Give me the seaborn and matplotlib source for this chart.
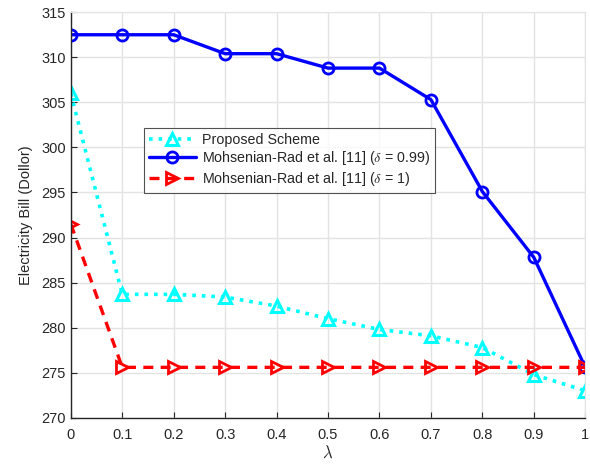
import matplotlib
matplotlib.use("Agg")
import matplotlib.pyplot as plt
import seaborn as sns
import numpy as np

lam = [0, 0.1, 0.2, 0.3, 0.4, 0.5, 0.6, 0.7, 0.8, 0.9, 1.0]
proposed = [306.0, 283.7, 283.7, 283.4, 282.4, 281.0, 279.8, 279.1, 277.8, 274.8, 273.0]
mr_099 = [312.5, 312.5, 312.5, 310.4, 310.4, 308.8, 308.8, 305.3, 295.1, 287.8, 275.6]
mr_1 = [291.5, 275.6, 275.6, 275.6, 275.6, 275.6, 275.6, 275.6, 275.6, 275.6, 275.6]
labels = ["Proposed Scheme",
          r"Mohsenian-Rad et al. [11] ($\delta$ = 0.99)",
          r"Mohsenian-Rad et al. [11] ($\delta$ = 1)"]
xticks = [0, 0.1, 0.2, 0.3, 0.4, 0.5, 0.6, 0.7, 0.8, 0.9, 1]
xticklabels = ["0", "0.1", "0.2", "0.3", "0.4", "0.5", "0.6", "0.7", "0.8", "0.9", "1"]
yticks = [270, 275, 280, 285, 290, 295, 300, 305, 310, 315]

sns.set_style("white")
plt.rcParams['font.family'] = ['Liberation Sans', 'DejaVu Sans']
plt.rcParams['mathtext.fontset'] = 'cm'

fig = plt.figure(figsize=(5.9, 4.7), dpi=100)
ax = fig.add_axes([0.120, 0.111, 0.872, 0.863])

sns.lineplot(x=lam, y=proposed, ax=ax, color='#00FFFF', linestyle=':', linewidth=2.6,
             marker='^', markersize=9, markerfacecolor='none', markeredgecolor='#00FFFF',
             markeredgewidth=2.2, label=labels[0])
sns.lineplot(x=lam, y=mr_099, ax=ax, color='#0000FF', linestyle='-', linewidth=2.4,
             marker='o', markersize=8, markerfacecolor='none', markeredgecolor='#0000FF',
             markeredgewidth=2.0, label=labels[1])
sns.lineplot(x=lam, y=mr_1, ax=ax, color='#FF0000', linestyle=(0, (3, 2.2)), linewidth=2.4,
             marker='>', markersize=9, markerfacecolor='none', markeredgecolor='#FF0000',
             markeredgewidth=2.0, label=labels[2])

ax.set_xlim(0, 1)
ax.set_ylim(270, 315)
ax.set_xticks(xticks)
ax.set_xticklabels(xticklabels)
ax.set_yticks(yticks)
ax.grid(True, color='#E3E3E3', linewidth=1.0)
ax.set_axisbelow(True)
for s in ['top', 'right']:
    ax.spines[s].set_color('#E3E3E3')
for s in ['left', 'bottom']:
    ax.spines[s].set_color('#262626')
    ax.spines[s].set_linewidth(1.0)
ax.tick_params(axis='both', direction='in', length=4, labelsize=10.5, colors='#262626',
               bottom=True, left=True, top=False, right=False)
ax.tick_params(axis='x', pad=7)
ax.set_xlabel(r'$\lambda$', fontsize=12, color='#262626', labelpad=2)
ax.set_ylabel('Electricity Bill (Dollor)', fontsize=10.5, color='#262626', labelpad=6)

leg = ax.legend(loc='upper left', bbox_to_anchor=(0.142, 0.714), borderaxespad=0,
                fontsize=10.3, frameon=True, fancybox=False, handlelength=3.3,
                borderpad=0.35, labelspacing=0.15, handletextpad=0.4)
leg.get_frame().set_edgecolor('#262626')
leg.get_frame().set_linewidth(0.8)

fig.savefig("out.png", dpi=100)
